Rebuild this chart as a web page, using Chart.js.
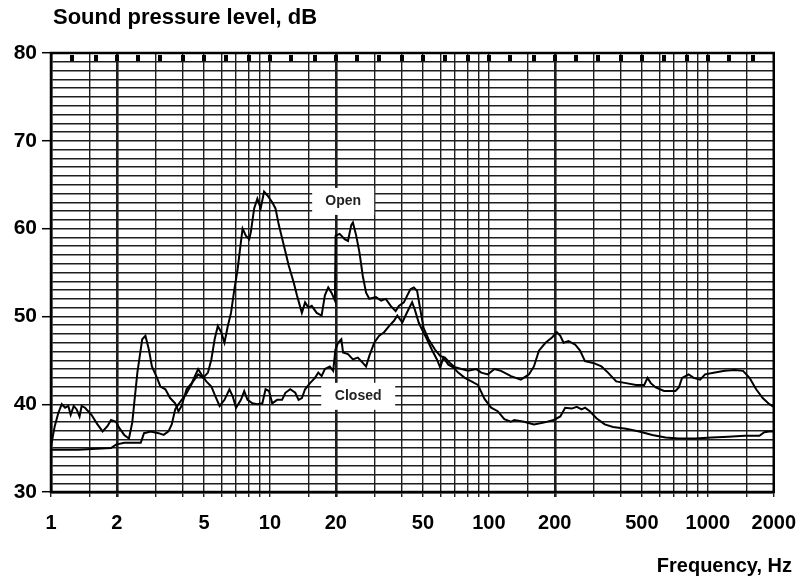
<!DOCTYPE html>
<html>
<head>
<meta charset="utf-8">
<script src="https://cdn.jsdelivr.net/npm/chart.js@4.4.0/dist/chart.umd.min.js"></script>
<style>
  body { margin: 0; background: #fff; }
  #wrap { width: 810px; height: 582px; position: relative; }
</style>
</head>
<body>
<div id="wrap"><canvas id="splChart"></canvas></div>
<script>
// Sound pressure level vs frequency, window open / closed

const openFreq = [
  1.0, 1.33, 1.88, 1.98, 2.16, 2.57, 2.66, 2.85, 3.10, 3.27, 3.44, 3.56, 3.69, 3.82,
  4.15, 4.46, 4.70, 4.95, 5.21, 5.40, 5.59, 5.78, 5.99, 6.20, 6.42, 6.64, 6.88, 7.12,
  7.37, 7.50, 7.76, 8.04, 8.18, 8.47, 8.76, 9.07, 9.40, 9.72, 10.24, 10.60, 10.98,
  11.57, 12.18, 12.83, 13.28, 13.99, 14.47, 14.99, 15.52, 16.35, 17.22, 17.82, 18.46,
  19.10, 19.80, 19.95, 20.82, 21.93, 22.72, 23.51, 23.93, 24.77, 25.63, 26.55, 27.48,
  28.43, 30.48, 32.2, 33.8, 35.6, 37.5, 38.8, 40.9, 42.4, 43.8, 45.4, 47.0, 48.6, 50.3,
  53.0, 56.8, 59.9, 63.0, 66.4, 70.0, 75.0, 80.3, 87.6, 92.3, 98.9, 106, 113.6, 126.1,
  139.9, 152.5, 160.6, 169.2, 181.4, 194.2, 204.5, 211.9, 219.3, 231, 247.6, 260.8,
  274.7, 299.5, 326.5, 349.9, 381.5, 423.2, 469.6, 512.3, 530.2, 548.7, 578, 630.5,
  711.5, 737, 762.6, 817.6, 861, 922.3, 971.4, 1078, 1196, 1327, 1448, 1550, 1662,
  1781, 1909, 2000
];
const openLevel = [
  34.8, 34.8, 35.0, 35.4, 35.6, 35.6, 36.7, 36.9, 36.7, 36.5, 36.9, 37.7, 39.4, 40.0,
  41.2, 42.6, 43.4, 43.0, 43.6, 45.1, 47.4, 48.9, 48.2, 47.0, 48.9, 50.4, 53.1, 55.4,
  58.5, 60.0, 59.2, 58.8, 59.6, 62.3, 63.4, 62.3, 64.2, 63.8, 63.0, 62.3, 60.4,
  58.1, 55.8, 53.9, 52.4, 50.4, 51.6, 51.0, 51.2, 50.4, 50.1, 52.4, 53.3,
  52.7, 51.8, 59.2, 59.4, 58.8, 58.6, 60.4, 60.7, 59.2, 57.3, 54.6, 52.7,
  52.0, 52.2, 51.8, 52.0, 51.2, 50.6, 51.2, 51.6, 52.4, 53.1, 53.3, 52.9, 50.8, 48.7,
  47.4, 46.2, 45.5, 45.3, 44.7, 44.2, 44.0, 43.8, 44.0, 43.6, 43.4, 44.0, 43.8, 43.2,
  42.8, 43.4, 44.3, 46.1, 47.0, 47.6, 48.2, 47.8, 47.0, 47.2, 46.8, 46.1,
  44.9, 44.7, 44.3, 43.6, 42.6, 42.4, 42.2, 42.2, 43.0, 42.4, 41.9, 41.5,
  41.5, 41.9, 43.0, 43.4, 43.0, 42.8, 43.4, 43.6, 43.8, 43.9, 43.8, 43.0, 41.7,
  40.7, 40.0, 39.7
];

const closedFreq = [
  1.0, 1.04, 1.08, 1.12, 1.16, 1.2, 1.23, 1.27, 1.31, 1.35, 1.38, 1.43, 1.53, 1.63,
  1.72, 1.81, 1.88, 1.98, 2.05, 2.16, 2.27, 2.35, 2.48, 2.61, 2.7, 2.8, 2.89, 3.05,
  3.16, 3.33, 3.5, 3.69, 3.82, 3.95, 4.16, 4.39, 4.7, 4.86, 5.12, 5.4, 5.68, 5.89,
  6.2, 6.53, 6.76, 7.0, 7.37, 7.63, 7.9, 8.32, 8.76, 9.23, 9.55, 9.9, 10.24, 10.79,
  11.36, 11.76, 12.38, 13.05, 13.51, 13.99, 14.47, 15.24, 16.06, 16.63, 17.22, 17.82,
  18.76, 19.45, 19.9, 20.47, 21.19, 21.57, 22.72, 23.93, 25.2, 26.55, 27.48, 28.43,
  29.95, 31.54, 33.22, 34.99, 36.86, 38.18, 40.22, 42.36, 44.6, 45.85, 47.8, 49.5,
  52.15, 54.9, 57.9, 59.9, 62.0, 65.3, 68.7, 72.4, 77.6, 83.2, 89.1, 95.5, 102.4,
  109.7, 117.6, 126, 130.5, 144.7, 160.6, 178, 197.7, 211.9, 223, 239, 252, 265, 275,
  289, 310, 338, 369, 423, 486, 558, 641, 737, 876, 1041, 1239, 1472, 1720, 1811,
  1909, 2000
];
const closedLevel = [
  35.2, 37.5, 39.0, 40.0, 39.6, 39.8, 38.8, 39.8, 39.4, 38.6, 39.8, 39.6, 38.8, 37.7,
  36.9, 37.5, 38.2, 38.0, 37.3, 36.5, 36.1, 37.9, 43.6, 47.4, 47.8, 46.2, 44.3, 43.0,
  42.0, 41.7, 40.7, 40.1, 39.2, 39.8, 41.7, 42.4, 44.0, 43.4, 42.6, 42.0, 40.7, 39.8,
  40.5, 41.7, 40.9, 39.6, 40.5, 41.5, 40.5, 40.1, 40.0, 40.1, 41.7, 41.5, 40.1, 40.5,
  40.5, 41.3, 41.7, 41.3, 40.5, 40.7, 41.7, 42.4, 43.0, 43.6, 43.2, 44.0,
  44.3, 43.8, 46.2, 47.0, 47.4, 45.9, 45.7, 45.1, 45.3, 44.7, 44.3, 45.5,
  47.0, 47.8, 48.2, 48.9, 49.5, 50.1, 49.3, 50.5, 51.6, 50.8, 49.3, 48.5,
  47.4, 46.2, 45.1, 44.2, 45.3, 44.5, 44.2, 43.6, 43.0, 42.6, 42.2, 40.6, 39.6,
  39.2, 38.3, 38.0, 38.2, 38.0, 37.7, 37.9, 38.2, 38.6, 39.6, 39.5, 39.7, 39.4, 39.6,
  39.2, 38.4, 37.7, 37.4, 37.2, 36.9, 36.5, 36.2, 36.1, 36.1, 36.2, 36.3, 36.4, 36.4, 36.8,
  36.9, 36.9
];

// grid of the log paper
const gridFreqs = [1, 1.5, 2, 3, 4, 5, 6, 7, 8, 9, 10, 15, 20, 30, 40, 50, 60, 70, 80, 90,
  100, 150, 200, 300, 400, 500, 600, 700, 800, 900, 1000, 1500, 2000];
const boldFreqs = [2, 20, 200];
const labeledFreqs = [1, 2, 5, 10, 20, 50, 100, 200, 500, 1000, 2000];
const thirdOctaveMarks = [1.25, 1.6, 2, 2.5, 3.15, 4, 5, 6.3, 8, 10, 12.5, 16, 20, 25, 31.5,
  40, 50, 63, 80, 100, 125, 160, 200, 250, 315, 400, 500, 630, 800, 1000, 1250, 1600];

const FONT = '"Liberation Sans", Arial, Helvetica, sans-serif';
const GRID = '#1e1e1e';

function toPoints(freqs, levels) {
  return freqs.map((f, i) => ({ x: f, y: levels[i] }));
}

const curveLabels = [
  { text: 'Open', f: 21.6, db: 63.1, w: 62, h: 27 },
  { text: 'Closed', f: 25.3, db: 40.9, w: 74, h: 27 }
];

const paperPlugin = {
  id: 'paper',
  afterDraw(chart) {
    const ctx = chart.ctx;
    const a = chart.chartArea;
    const xs = chart.scales.x;
    const ys = chart.scales.y;
    ctx.save();

    // frame
    ctx.lineWidth = 2.5;
    ctx.strokeStyle = '#000';
    ctx.strokeRect(a.left, a.top, a.right - a.left, a.bottom - a.top);

    // small marks along the top edge
    ctx.fillStyle = '#000';
    thirdOctaveMarks.forEach(function (f) {
      const px = xs.getPixelForValue(f);
      ctx.fillRect(Math.round(px) - 2, a.top + 2, 4, 6);
    });

    // curve names in white boxes
    ctx.font = 'bold 14px ' + FONT;
    ctx.textAlign = 'center';
    ctx.textBaseline = 'middle';
    curveLabels.forEach(function (l) {
      const cx = xs.getPixelForValue(l.f);
      const cy = ys.getPixelForValue(l.db);
      ctx.fillStyle = '#fff';
      ctx.fillRect(cx - l.w / 2, cy - l.h / 2, l.w, l.h);
      ctx.fillStyle = '#222';
      ctx.fillText(l.text, cx, cy);
    });

    // axis titles
    ctx.fillStyle = '#000';
    ctx.font = 'bold 22px ' + FONT;
    ctx.textAlign = 'left';
    ctx.fillText('Sound pressure level, dB', 53, 18);
    ctx.textAlign = 'right';
    ctx.font = 'bold 20px ' + FONT;
    ctx.fillText('Frequency, Hz', 792, 566);

    ctx.restore();
  }
};

document.addEventListener("DOMContentLoaded", function () {

  const data = {
    datasets: [
      {
        label: 'Open',
        data: toPoints(openFreq, openLevel),
        borderColor: '#000',
        borderWidth: 2,
        pointRadius: 0,
        tension: 0,
        fill: false
      },
      {
        label: 'Closed',
        data: toPoints(closedFreq, closedLevel),
        borderColor: '#000',
        borderWidth: 2,
        pointRadius: 0,
        tension: 0,
        fill: false
      }
    ]
  };

  const config = {
    type: 'line',
    data,
    options: {
      responsive: true,
      maintainAspectRatio: false,
      animation: false,
      layout: { padding: { top: 53, right: 27, left: 0, bottom: 0 } },
      plugins: {
        legend: { display: false },
        title: { display: false },
        tooltip: { enabled: false }
      },
      scales: {
        x: {
          type: 'logarithmic',
          min: 1,
          max: 2000,
          afterBuildTicks: function (s) {
            s.ticks = gridFreqs.map(function (v) { return { value: v }; });
          },
          afterFit: function (s) { s.height = 90; },
          border: { display: true, color: '#000', width: 2.5 },
          grid: {
            color: GRID,
            lineWidth: function (c) {
              return c.tick && boldFreqs.includes(c.tick.value) ? 2.6 : 1.4;
            },
            tickLength: 5,
            tickColor: GRID
          },
          ticks: {
            autoSkip: false,
            maxRotation: 0,
            minRotation: 0,
            padding: 14,
            color: '#000',
            font: { family: FONT, size: 20, weight: 'bold' },
            callback: function (v) {
              return labeledFreqs.includes(v) ? String(v) : '';
            }
          }
        },
        y: {
          min: 30,
          max: 80,
          afterFit: function (s) { s.width = 51; },
          border: { display: true, color: '#000', width: 2.5 },
          grid: {
            color: GRID,
            lineWidth: 1.4,
            tickLength: 9,
            tickWidth: 1.5,
            tickColor: function (c) {
              return c.tick && c.tick.value % 10 === 0 ? '#000' : 'rgba(0,0,0,0)';
            }
          },
          ticks: {
            stepSize: 1,
            autoSkip: false,
            padding: 5,
            color: '#000',
            font: { family: FONT, size: 21, weight: 'bold' },
            callback: function (v) {
              return v % 10 === 0 ? String(v) : '';
            }
          }
        }
      }
    },
    plugins: [paperPlugin]
  };

  new Chart(
    document.getElementById('splChart'),
    config
  );
})
</script>
</body>
</html>
